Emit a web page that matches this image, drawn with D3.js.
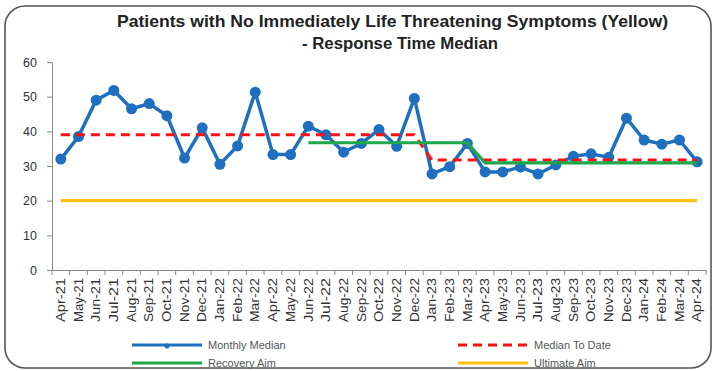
<!DOCTYPE html>
<html>
<head>
<meta charset="utf-8">
<script src="https://cdn.jsdelivr.net/npm/d3@7"></script>
<style>
  body { margin: 0; background: #fff; }
  svg { display: block; font-family: Arial, "Liberation Sans", sans-serif; }
</style>
</head>
<body>
<div id="chart"></div>
<script>
// Data
const months = ["Apr-21","May-21","Jun-21","Jul-21","Aug-21","Sep-21","Oct-21","Nov-21","Dec-21",
  "Jan-22","Feb-22","Mar-22","Apr-22","May-22","Jun-22","Jul-22","Aug-22","Sep-22","Oct-22","Nov-22","Dec-22",
  "Jan-23","Feb-23","Mar-23","Apr-23","May-23","Jun-23","Jul-23","Aug-23","Sep-23","Oct-23","Nov-23","Dec-23",
  "Jan-24","Feb-24","Mar-24","Apr-24"];
const monthlyMedian = [32, 38.5, 49, 51.8, 46.5, 48, 44.5, 32.3, 41,
  30.5, 35.8, 51.3, 33.3, 33.3, 41.5, 39, 34, 36.5, 40.5, 35.7, 49.5,
  27.7, 29.8, 36.5, 28.3, 28.3, 29.7, 27.7, 30.3, 32.8, 33.5, 32.5, 43.8,
  37.5, 36.3, 37.5, 31.2];
const medianToDate = [39, 39, 39, 39, 39, 39, 39, 39, 39,
  39, 39, 39, 39, 39, 39, 39, 39, 39, 39, 39, 39,
  31.7, 31.7, 31.7, 31.7, 31.7, 31.7, 31.7, 31.7, 31.7, 31.7, 31.7, 31.7,
  31.7, 31.7, 31.7, 31.7];
const recoveryAim = [null, null, null, null, null, null, null, null, null,
  null, null, null, null, null, 36.7, 36.7, 36.7, 36.7, 36.7, 36.7, 36.7,
  36.7, 36.7, 36.7, 30.9, 30.9, 30.9, 30.9, 30.9, 30.9, 30.9, 30.9, 30.9,
  30.9, 30.9, 30.9, 30.9];
const ultimateAim = months.map(() => 20);
const yTicks = [0, 10, 20, 30, 40, 50, 60];

const width = 715, height = 371;

const svg = d3.select("#chart")
  .append("svg")
  .attr("width", width)
  .attr("height", height);

// Rounded frame
svg.append("rect")
  .attr("x", 5).attr("y", 6)
  .attr("width", 706).attr("height", 362)
  .attr("rx", 20).attr("ry", 20)
  .attr("fill", "#fff")
  .attr("stroke", "#555")
  .attr("stroke-width", 1.6);

// Title (condensed look, stretched to the reference width)
svg.append("text")
  .attr("x", 117).attr("y", 27)
  .attr("font-size", "16.5px").attr("font-weight", "bold").attr("fill", "#222")
  .attr("textLength", 551).attr("lengthAdjust", "spacingAndGlyphs")
  .text("Patients with No Immediately Life Threatening Symptoms (Yellow)");
svg.append("text")
  .attr("x", 302).attr("y", 49)
  .attr("font-size", "16.5px").attr("font-weight", "bold").attr("fill", "#222")
  .attr("textLength", 196).attr("lengthAdjust", "spacingAndGlyphs")
  .text("- Response Time Median");

// Scales
const x = d3.scaleBand().domain(months).range([52, 706]).padding(0);
const y = d3.scaleLinear().domain([0, 60]).range([270, 62]);
const cx = d => x(d) + x.bandwidth() / 2;

// Y axis
const yAxis = svg.append("g")
  .attr("transform", "translate(52,0)")
  .call(d3.axisLeft(y).tickValues(yTicks).tickSize(5).tickSizeOuter(0));
yAxis.select(".domain").attr("stroke", "#888");
yAxis.selectAll(".tick line").attr("stroke", "#888");
yAxis.selectAll(".tick text").attr("font-size", "12.5px").attr("fill", "#333").attr("x", -15);

// X axis
const xAxis = svg.append("g")
  .attr("transform", "translate(0,270)")
  .call(d3.axisBottom(x).tickSize(0).tickSizeOuter(0));
xAxis.select(".domain").attr("stroke", "#888");
xAxis.selectAll(".tick text")
  .attr("font-size", "12px").attr("fill", "#333")
  .attr("text-anchor", "end")
  .attr("transform", "rotate(-90)")
  .attr("x", -8).attr("y", 0).attr("dy", "0.35em")
  .attr("textLength", 44).attr("lengthAdjust", "spacingAndGlyphs");

// tick marks at band edges
xAxis.selectAll(".edge")
  .data(months.concat(["end"]))
  .join("line")
  .attr("class", "edge")
  .attr("x1", d => d === "end" ? x.range()[1] : x(d))
  .attr("x2", d => d === "end" ? x.range()[1] : x(d))
  .attr("y1", 0).attr("y2", 5)
  .attr("stroke", "#888");

// Lines
const line = d3.line()
  .defined(d => d.v !== null)
  .x(d => cx(d.m))
  .y(d => y(d.v));
const pairs = arr => months.map((m, i) => ({m: m, v: arr[i]}));

svg.append("path")
  .datum(pairs(monthlyMedian))
  .attr("d", line)
  .attr("fill", "none").attr("stroke", "#1f6fc0").attr("stroke-width", 3.5)
  .attr("stroke-linejoin", "round");

svg.append("g")
  .selectAll("circle")
  .data(pairs(monthlyMedian))
  .join("circle")
  .attr("cx", d => cx(d.m)).attr("cy", d => y(d.v))
  .attr("r", 5.5)
  .attr("fill", "#1f6fc0");

svg.append("path")
  .datum(pairs(medianToDate))
  .attr("d", line)
  .attr("fill", "none").attr("stroke", "#ff1010").attr("stroke-width", 3)
  .attr("stroke-dasharray", "9,6");

svg.append("path")
  .datum(pairs(recoveryAim))
  .attr("d", line)
  .attr("fill", "none").attr("stroke", "#1fa84a").attr("stroke-width", 3.2);

svg.append("path")
  .datum(pairs(ultimateAim))
  .attr("d", line)
  .attr("fill", "none").attr("stroke", "#ffc20e").attr("stroke-width", 3.2);

// Legend
const legend = [
  {name: "Monthly Median", color: "#1f6fc0", dash: null, x: 132, y: 345, marker: true},
  {name: "Median To Date", color: "#ff1010", dash: "9,6", x: 458, y: 345},
  {name: "Recovery Aim", color: "#1fa84a", dash: null, x: 132, y: 363},
  {name: "Ultimate Aim", color: "#ffc20e", dash: null, x: 458, y: 363}
];
const lg = svg.append("g").selectAll("g").data(legend).join("g");
lg.append("line")
  .attr("x1", d => d.x).attr("x2", d => d.x + 70)
  .attr("y1", d => d.y).attr("y2", d => d.y)
  .attr("stroke", d => d.color).attr("stroke-width", 3)
  .attr("stroke-dasharray", d => d.dash);
lg.filter(d => d.marker).append("circle")
  .attr("cx", d => d.x + 35).attr("cy", d => d.y + 1).attr("r", 2.5)
  .attr("fill", d => d.color);
lg.append("text")
  .attr("x", d => d.x + 76).attr("y", d => d.y)
  .attr("dy", "0.35em")
  .attr("font-size", "11px").attr("fill", "#555")
  .text(d => d.name);
</script>
</body>
</html>
